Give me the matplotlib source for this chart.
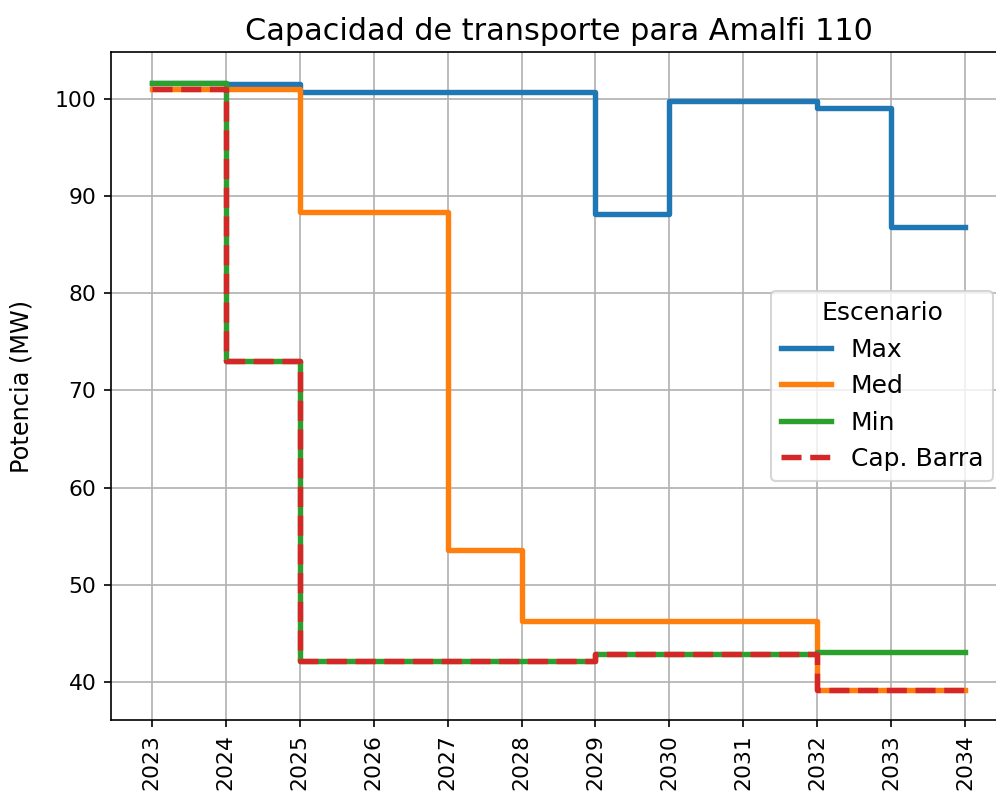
import matplotlib
matplotlib.use("Agg")
import matplotlib.pyplot as plt

years = [2023, 2024, 2025, 2026, 2027, 2028, 2029, 2030, 2031, 2032, 2033, 2034]
max_vals = [101.6, 101.5, 100.7, 100.7, 100.7, 100.7, 88.1, 99.8, 99.8, 99.05, 86.8, 86.8]
med_vals = [100.95, 100.95, 88.3, 88.3, 53.6, 46.3, 46.3, 46.3, 46.3, 39.25, 39.25, 39.25]
min_vals = [101.65, 73.0, 42.2, 42.2, 42.2, 42.2, 42.95, 42.95, 42.95, 43.1, 43.1, 43.1]
cap_vals = [100.95, 73.0, 42.2, 42.2, 42.2, 42.2, 42.95, 42.95, 42.95, 39.25, 39.25, 39.25]

fig, ax = plt.subplots(figsize=(6.64, 5.36), dpi=150)
fig.subplots_adjust(left=0.1115, right=1.010, top=0.935, bottom=0.1045)

ax.step(years, max_vals, where="post", color="#1f77b4", lw=2.6, label="Max")
ax.step(years, med_vals, where="post", color="#ff7f0e", lw=2.6, label="Med")
ax.step(years, min_vals, where="post", color="#2ca02c", lw=2.6, label="Min")
ax.step(years, cap_vals, where="post", color="#d62728", lw=2.6, ls="--", label="Cap. Barra")

ax.set_xticks(years)
ax.set_xticklabels([str(y) for y in years], rotation=90)
ax.tick_params(axis="both", labelsize=10.5)
ax.set_ylabel("Potencia (MW)", fontsize=11.5, labelpad=10)
ax.set_title("Capacidad de transporte para Amalfi 110", fontsize=14.5)
ax.grid(True)
ax.legend(title="Escenario", loc="center right", fontsize=12, title_fontsize=12)

fig.savefig("out.png", dpi=150)
